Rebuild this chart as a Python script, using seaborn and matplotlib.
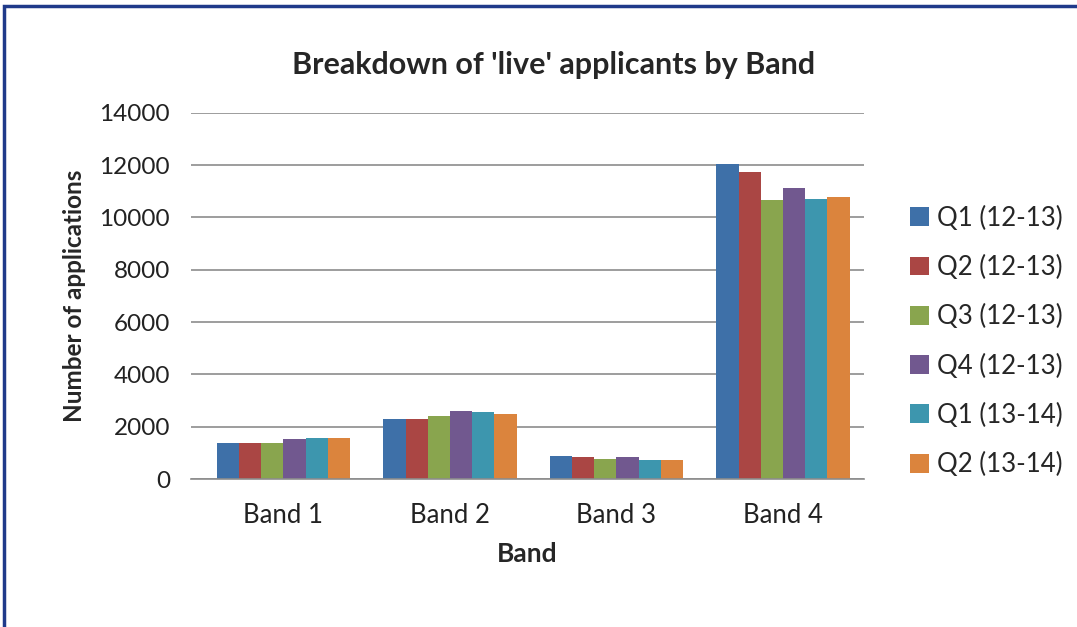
import pandas as pd
import matplotlib.pyplot as plt
import seaborn as sns
from matplotlib.patches import Rectangle

# Data
bands = ['Band 1', 'Band 2', 'Band 3', 'Band 4']
quarters = ['Q1 (12-13)', 'Q2 (12-13)', 'Q3 (12-13)', 'Q4 (12-13)', 'Q1 (13-14)', 'Q2 (13-14)']
q1_1213 = [1370, 2300, 880, 12050]
q2_1213 = [1370, 2300, 830, 11730]
q3_1213 = [1370, 2400, 780, 10650]
q4_1213 = [1520, 2600, 830, 11130]
q1_1314 = [1560, 2550, 730, 10700]
q2_1314 = [1560, 2500, 730, 10790]

series = [q1_1213, q2_1213, q3_1213, q4_1213, q1_1314, q2_1314]
rows = []
for q, vals in zip(quarters, series):
    for b, v in zip(bands, vals):
        rows.append({'Band': b, 'Quarter': q, 'Value': v})
df = pd.DataFrame(rows)

colors = ['#3e70a8', '#aa4644', '#89a54e', '#71588f', '#3d96ae', '#db843d']

sns.set_theme(style='white')
plt.rcParams['font.family'] = ['Lato', 'DejaVu Sans']

fig = plt.figure(figsize=(10.77, 6.27), dpi=100)
ax = fig.add_axes([0.1773, 0.236, 0.625, 0.584])

sns.barplot(data=df, x='Band', y='Value', hue='Quarter', palette=colors,
            width=0.8, saturation=1, ax=ax, edgecolor='none', linewidth=0)

ax.set_xlim(-0.555, 3.487)
ax.set_ylim(0, 14000)
ax.set_yticks(range(0, 14001, 2000))
ax.yaxis.grid(True, color='#8c8c8c', linewidth=1.2)
ax.set_axisbelow(True)
for s in ['top', 'right', 'left']:
    ax.spines[s].set_visible(False)
ax.spines['bottom'].set_color('#8c8c8c')
ax.spines['bottom'].set_linewidth(1.2)
ax.tick_params(axis='y', length=0, labelsize=17.5, colors='#222222', pad=15)
ax.tick_params(axis='x', length=0, labelsize=18.5, colors='#222222', pad=17)

ax.set_xlabel('Band', fontsize=19, fontweight='bold', labelpad=10)
ax.set_ylabel('Number of applications', fontsize=17.5, fontweight='bold', labelpad=10)
fig.text(0.514, 0.897, "Breakdown of 'live' applicants by Band", ha='center', va='center',
         fontsize=22, fontweight='bold')

ax.legend(loc='upper left', bbox_to_anchor=(0.845, 0.672), bbox_transform=fig.transFigure,
          frameon=False, fontsize=18.5, borderaxespad=0, borderpad=0,
          handlelength=0.75, handleheight=0.75, handletextpad=0.3, labelspacing=0.94)

# blue frame around the chart
fig.patches.append(Rectangle((0.004, -0.01), 1.2, 1.0, transform=fig.transFigure,
                             fill=False, edgecolor='#1f3a8a', linewidth=2.5))

fig.savefig('out.png', dpi=100)
